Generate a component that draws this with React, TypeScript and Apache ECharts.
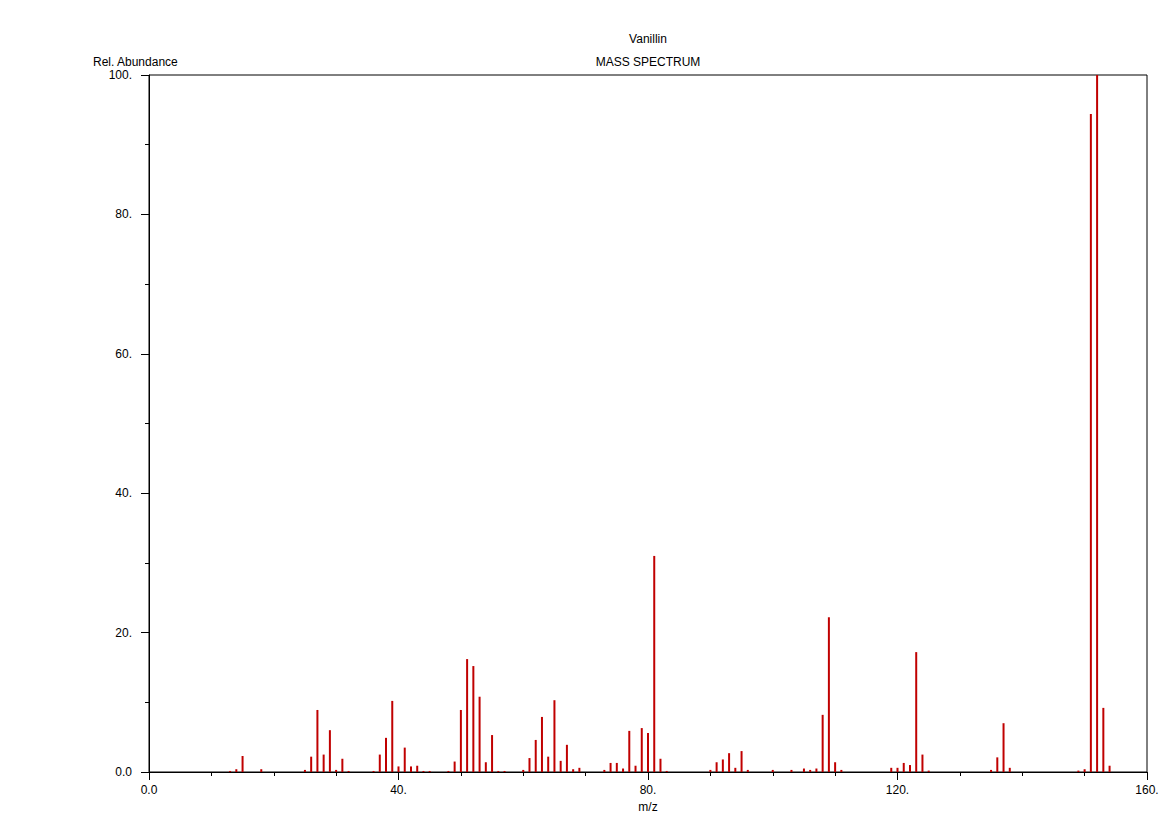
import React, { useEffect, useRef } from "react";
import * as echarts from "echarts";

const mz = [
  13, 14, 15, 18, 25, 26, 27, 28, 29, 30, 31, 32, 36, 37, 38, 39, 40, 41, 42, 43, 44, 45,
  48, 49, 50, 51, 52, 53, 54, 55, 56, 57, 60, 61, 62, 63, 64, 65, 66, 67, 68, 69,
  73, 74, 75, 76, 77, 78, 79, 80, 81, 82, 83, 90, 91, 92, 93, 94, 95, 96,
  100, 103, 105, 106, 107, 108, 109, 110, 111, 119, 120, 121, 122, 123, 124, 125,
  135, 136, 137, 138, 149, 150, 151, 152, 153, 154,
];
const abundance = [
  0.15, 0.4, 2.3, 0.4, 0.3, 2.2, 8.9, 2.5, 6.0, 0.3, 1.9, 0.15, 0.15, 2.5, 4.9, 10.2, 0.8, 3.5, 0.8, 0.9, 0.15, 0.15,
  0.15, 1.5, 8.9, 16.2, 15.2, 10.8, 1.4, 5.3, 0.15, 0.15, 0.3, 2.0, 4.6, 7.9, 2.2, 10.3, 1.6, 3.9, 0.4, 0.6,
  0.3, 1.3, 1.3, 0.5, 5.9, 0.9, 6.3, 5.6, 31.0, 1.9, 0.15, 0.3, 1.4, 1.8, 2.7, 0.6, 3.0, 0.3,
  0.3, 0.3, 0.5, 0.3, 0.5, 8.2, 22.2, 1.4, 0.3, 0.6, 0.6, 1.3, 1.0, 17.2, 2.5, 0.2,
  0.3, 2.1, 7.0, 0.6, 0.2, 0.4, 94.4, 100, 9.2, 0.9,
];

const FONT = "'Liberation Sans', Arial, sans-serif";

export default function App() {
  const ref = useRef<HTMLDivElement>(null);
  useEffect(() => {
    if (!ref.current) return;
    const chart = echarts.init(ref.current, null, { renderer: "svg" });
    const fmt = (v: number) => (v === 0 ? "0.0" : `${v}.`);
    chart.setOption({
      animation: false,
      backgroundColor: "#ffffff",
      textStyle: { fontFamily: FONT },
      grid: {
        left: 149,
        right: 19,
        top: 75,
        bottom: 50,
        show: true,
        borderColor: "#000",
        borderWidth: 1,
        backgroundColor: "transparent",
      },
      graphic: [
        { type: "text", x: 648, y: 39, style: { text: "Vanillin", fill: "#000", font: `12px ${FONT}`, textAlign: "center", textVerticalAlign: "middle" } },
        { type: "text", x: 648, y: 62, style: { text: "MASS SPECTRUM", fill: "#000", font: `12px ${FONT}`, textAlign: "center", textVerticalAlign: "middle" } },
        { type: "text", x: 93, y: 62, style: { text: "Rel. Abundance", fill: "#000", font: `12px ${FONT}`, textAlign: "left", textVerticalAlign: "middle" } },
        { type: "text", x: 648, y: 807, style: { text: "m/z", fill: "#000", font: `12px ${FONT}`, textAlign: "center", textVerticalAlign: "middle" } },
      ],
      xAxis: {
        type: "value",
        min: 0,
        max: 160,
        interval: 40,
        axisLine: { show: true, onZero: false, lineStyle: { color: "#000", width: 1 } },
        axisTick: { show: true, inside: false, length: 8, lineStyle: { color: "#000" } },
        minorTick: { show: true, splitNumber: 4, length: 4, lineStyle: { color: "#000" } },
        splitLine: { show: false },
        axisLabel: { formatter: fmt, color: "#000", fontSize: 12, fontFamily: FONT, margin: 12 },
      },
      yAxis: {
        type: "value",
        min: 0,
        max: 100,
        interval: 20,
        axisLine: { show: true, lineStyle: { color: "#000", width: 1 } },
        axisTick: { show: true, inside: false, length: 8, lineStyle: { color: "#000" } },
        minorTick: { show: true, splitNumber: 2, length: 4, lineStyle: { color: "#000" } },
        splitLine: { show: false },
        axisLabel: { formatter: fmt, color: "#000", fontSize: 12, fontFamily: FONT, margin: 17 },
      },
      series: [
        {
          type: "bar",
          barWidth: 2,
          itemStyle: { color: "#c00000" },
          data: mz.map((m, i) => [m, abundance[i]]),
        },
      ],
    });
    return () => chart.dispose();
  }, []);
  return (
    <div
      ref={ref}
      style={{ position: "fixed", left: 0, top: 0, width: 1166, height: 822, background: "#fff" }}
    />
  );
}
